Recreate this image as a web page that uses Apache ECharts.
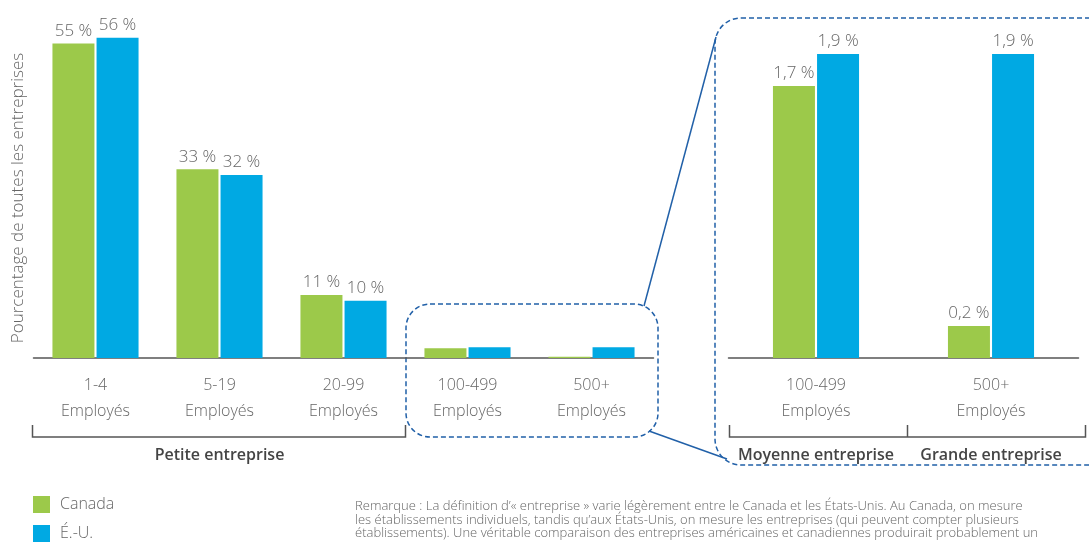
<!DOCTYPE html>
<html>
<head>
<meta charset="utf-8">
<script src="https://cdn.jsdelivr.net/npm/echarts@6/dist/echarts.min.js"></script>
<style>
  html, body { margin: 0; padding: 0; background: #fff; }
  #chart { width: 1089px; height: 546px; }
</style>
</head>
<body>
<div id="chart"></div>
<script>
// Entreprises by size class, share of all entreprises (%)
const categories = ['1-4', '5-19', '20-99', '100-499', '500+'];
const canada = [55, 33, 11, 1.7, 0.2];
const usa = [56, 32, 10, 1.9, 1.9];
const seriesNames = ['Canada', 'É.-U.'];
const zoomStart = 3; // the last two size classes are repeated in the enlarged panel
const groups = [
  { name: 'Petite entreprise', panel: 'main', from: 0, to: 3 },
  { name: 'Moyenne entreprise', panel: 'zoom', from: 0, to: 1 },
  { name: 'Grande entreprise', panel: 'zoom', from: 1, to: 2 }
];
const yTitle = 'Pourcentage de toutes les entreprises';
const noteLines = [
  'Remarque : La définition d’« entreprise » varie légèrement entre le Canada et les États-Unis. Au Canada, on mesure',
  'les établissements individuels, tandis qu’aux États-Unis, on mesure les entreprises (qui peuvent compter plusieurs',
  'établissements). Une véritable comparaison des entreprises américaines et canadiennes produirait probablement un'
];

const GREEN = '#9CC94A';
const BLUE = '#00A9E3';
const TEXT = '#666666';
const AXIS = '#555555';
const DASH = '#2160A8';
const FONT = '"Open Sans", "Noto Sans", sans-serif';

// panel geometry
const main = { left: 33.5, width: 620, top: 15, height: 343, max: 60 };
const zoom = { left: 728.5, width: 350, top: 22, height: 336, max: 2.1 };

function fmt(v) { return String(v).replace('.', ',') + ' %'; }

const labelStyle = { show: true, position: 'top', distance: 4, color: TEXT, fontSize: 17, fontFamily: FONT, fontWeight: 300, formatter: p => fmt(p.value) };

function mainData(arr) {
  return arr.map((v, i) => ({ value: v, label: { show: i < zoomStart } }));
}

const zoomCats = categories.slice(zoomStart);

function bar(name, color, data, idx) {
  return {
    name: name, type: 'bar', xAxisIndex: idx, yAxisIndex: idx,
    data: data, barWidth: 42, barGap: '5%',
    itemStyle: { color: color },
    label: labelStyle,
    emphasis: { disabled: true }
  };
}

const xAxisCommon = {
  type: 'category',
  axisTick: { show: false },
  axisLine: { lineStyle: { color: AXIS, width: 1.5 } },
  axisLabel: {
    color: TEXT, fontSize: 16, fontFamily: FONT, fontWeight: 300,
    lineHeight: 26, margin: 14, interval: 0,
    formatter: v => v + '\nEmployés'
  }
};

// category boundary in pixels
function catEdge(panelName, i) {
  const panel = panelName === 'main' ? main : zoom;
  const n = panelName === 'main' ? categories.length : zoomCats.length;
  return panel.left + panel.width / n * i;
}

const graphics = [];
const bracketTop = 425, bracketY = 437;
const px = v => Math.round(v) + 0.5;

// Petite entreprise bracket
const g0 = groups[0];
g0.x1 = px(catEdge('main', g0.from) - 1.5);
g0.x2 = px(catEdge('main', g0.to) - 1);
// Moyenne / Grande brackets share the middle tick
const g1 = groups[1], g2 = groups[2];
g1.x1 = px(catEdge('zoom', g1.from));
g1.x2 = px(catEdge('zoom', g1.to) + 3);
g2.x1 = g1.x2;
g2.x2 = px(catEdge('zoom', g2.to) + 6);

function bracket(x1, x2) {
  graphics.push({ type: 'polyline', silent: true, shape: { points: [[x1, bracketTop], [x1, bracketY], [x2, bracketY], [x2, bracketTop]] }, style: { stroke: AXIS, lineWidth: 1.5, fill: null } });
}
bracket(g0.x1, g0.x2);
bracket(g1.x1, g2.x2);
graphics.push({ type: 'line', silent: true, shape: { x1: g1.x2, y1: bracketTop, x2: g1.x2, y2: bracketY }, style: { stroke: AXIS, lineWidth: 1.5 } });

// group names sit under the middle of their categories
groups.forEach(g => {
  const cx = (catEdge(g.panel, g.from) + catEdge(g.panel, g.to)) / 2;
  graphics.push({
    type: 'text', silent: true,
    x: cx, y: 455,
    style: { text: g.name, fill: '#444', font: '600 16px ' + FONT, align: 'center', verticalAlign: 'middle' }
  });
});

// dashed call-out frames and connectors
graphics.push({ type: 'rect', silent: true, shape: { x: 406, y: 304, width: 252, height: 133, r: 24 }, style: { fill: null, stroke: DASH, lineWidth: 1.5, lineDash: [5, 3] } });
graphics.push({ type: 'rect', silent: true, shape: { x: 715, y: 18, width: 400, height: 447, r: 26 }, style: { fill: null, stroke: DASH, lineWidth: 1.5, lineDash: [5, 3] } });
graphics.push({ type: 'line', silent: true, shape: { x1: 644, y1: 306, x2: 716, y2: 37 }, style: { stroke: DASH, lineWidth: 1.5 } });
graphics.push({ type: 'line', silent: true, shape: { x1: 649, y1: 431, x2: 727, y2: 459 }, style: { stroke: DASH, lineWidth: 1.5 } });

// vertical axis title
graphics.push({ type: 'text', silent: true, x: 18, y: 198, rotation: Math.PI / 2, style: { text: yTitle, fill: TEXT, font: '300 17px ' + FONT, align: 'center', verticalAlign: 'middle' } });

// note, fitted to its column width
const noteFont = '300 13px ' + FONT;
const ctx = document.createElement('canvas').getContext('2d');
ctx.font = noteFont;
const widest = Math.max.apply(null, noteLines.map(l => ctx.measureText(l).width));
const noteScale = 683 / widest;
graphics.push({ type: 'text', silent: true, x: 355, y: 500, scaleX: noteScale, style: { text: noteLines.join('\n'), fill: TEXT, font: noteFont, lineHeight: 13.5, align: 'left', verticalAlign: 'top' } });

const chart = echarts.init(document.getElementById('chart'), null, { renderer: 'canvas' });
chart.setOption({
  animation: false,
  textStyle: { fontFamily: FONT },
  color: [GREEN, BLUE],
  legend: {
    data: seriesNames, orient: 'vertical', left: 33, top: 496, padding: 0,
    icon: 'rect', itemWidth: 17, itemHeight: 17, itemGap: 12,
    textStyle: { color: TEXT, fontSize: 16, fontFamily: FONT, fontWeight: 300, padding: [0, 0, 0, 5] },
    selectedMode: false
  },
  grid: [
    { left: main.left, width: main.width, top: main.top, height: main.height },
    { left: zoom.left, width: zoom.width, top: zoom.top, height: zoom.height }
  ],
  xAxis: [
    Object.assign({ gridIndex: 0, data: categories }, xAxisCommon),
    Object.assign({ gridIndex: 1, data: zoomCats }, xAxisCommon)
  ],
  yAxis: [
    { gridIndex: 0, type: 'value', min: 0, max: main.max, show: false },
    { gridIndex: 1, type: 'value', min: 0, max: zoom.max, show: false }
  ],
  series: [
    bar(seriesNames[0], GREEN, mainData(canada), 0),
    bar(seriesNames[1], BLUE, mainData(usa), 0),
    bar(seriesNames[0], GREEN, canada.slice(zoomStart), 1),
    bar(seriesNames[1], BLUE, usa.slice(zoomStart), 1)
  ],
  graphic: graphics
});
</script>
</body>
</html>
